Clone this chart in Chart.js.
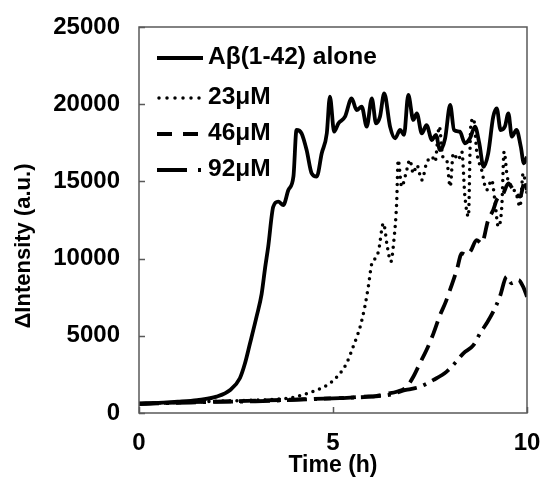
<!DOCTYPE html>
<html>
<head>
<meta charset="utf-8">
<script src="https://cdn.jsdelivr.net/npm/chart.js@4.4.0/dist/chart.umd.min.js"></script>
<style>
    html, body { margin: 0; padding: 0; background: #fff; }
    #wrap { width: 543px; height: 477px; }
</style>
</head>
<body>
<div id="wrap"><canvas id="myChart"></canvas></div>
<script>
// time (h) and ΔIntensity (a.u.)
const timeAlone = [0, 0.5, 1, 1.5, 2.0, 2.35, 2.6, 2.73, 2.86, 3.03, 3.16, 3.25, 3.33, 3.46, 3.59, 3.72, 3.85, 3.98, 4.06, 4.19, 4.32, 4.45, 4.58, 4.71, 4.84, 4.92, 5.03, 5.14, 5.31, 5.48, 5.61, 5.74, 5.87, 6.0, 6.11, 6.21, 6.32, 6.47, 6.6, 6.73, 6.83, 6.94, 7.07, 7.16, 7.29, 7.41, 7.55, 7.65, 7.76, 7.89, 8.02, 8.12, 8.27, 8.4, 8.53, 8.66, 8.77, 8.88, 9.0, 9.13, 9.22, 9.32, 9.43, 9.52, 9.61, 9.73, 9.84, 9.92, 10.0];
const valuesAlone = [600, 650, 730, 840, 1060, 1490, 2250, 3200, 4500, 6240, 7700, 9400, 10770, 13360, 13690, 13470, 14440, 15310, 18330, 18110, 17030, 15520, 15310, 16820, 18110, 20490, 18220, 18760, 19190, 20380, 19620, 19840, 18550, 20380, 18760, 19190, 20700, 18550, 17790, 18330, 18010, 20600, 18980, 19410, 18110, 18650, 17680, 18010, 17030, 17790, 19950, 18330, 18220, 17470, 17790, 18550, 17470, 15950, 16820, 19190, 19730, 18330, 18550, 19410, 17900, 18330, 17250, 16170, 16600];

const time23 = [0, 1, 2, 3, 3.5, 4.06, 4.58, 4.92, 5.18, 5.35, 5.52, 5.7, 5.82, 5.91, 6.0, 6.06, 6.17, 6.3, 6.4, 6.49, 6.57, 6.64, 6.68, 6.77, 6.88, 6.98, 7.07, 7.16, 7.29, 7.41, 7.55, 7.63, 7.74, 7.83, 7.93, 8.02, 8.1, 8.23, 8.32, 8.4, 8.49, 8.55, 8.62, 8.71, 8.83, 8.96, 9.09, 9.17, 9.26, 9.35, 9.41, 9.49, 9.61, 9.73, 9.82, 9.9, 10.0];
const values23 = [600, 680, 760, 830, 880, 1060, 1490, 1920, 2570, 3220, 4300, 5590, 6890, 8180, 9690, 9910, 10450, 12280, 10770, 9800, 11200, 13580, 16390, 14660, 15520, 16390, 15520, 16060, 15090, 16170, 16600, 16280, 18550, 16600, 16390, 14660, 16820, 16390, 16930, 14010, 12720, 18550, 19080, 16820, 15740, 14440, 15090, 13800, 12070, 13360, 16930, 15310, 14660, 14120, 13360, 15520, 14230];

const time46 = [0, 1, 2, 3, 4, 4.5, 5.0, 5.35, 5.8, 6.1, 6.4, 6.64, 6.9, 7.07, 7.24, 7.41, 7.59, 7.76, 7.89, 8.02, 8.19, 8.32, 8.44, 8.55, 8.7, 8.83, 9.0, 9.13, 9.22, 9.39, 9.52, 9.65, 9.82, 9.95, 10.0];
const values46 = [600, 680, 740, 800, 870, 920, 950, 980, 1060, 1100, 1250, 1380, 1700, 2350, 3220, 4080, 5160, 6350, 7100, 8000, 9260, 10340, 10230, 10500, 11200, 10990, 12500, 13150, 13800, 14230, 14870, 14440, 14010, 15090, 14440];

const time92 = [0, 1, 2, 3, 4, 5, 5.5, 6.0, 6.5, 6.8, 7.0, 7.24, 7.59, 7.93, 8.14, 8.36, 8.62, 8.79, 8.96, 9.13, 9.3, 9.48, 9.6, 9.78, 9.9, 10.0];
const values92 = [600, 660, 720, 760, 850, 950, 1000, 1060, 1200, 1450, 1550, 1700, 2140, 2680, 3220, 3860, 4400, 5160, 5810, 6560, 7530, 8830, 8400, 8610, 8180, 7530];

const seriesNames = ['Aβ(1-42) alone', '23μM', '46μM', '92μM'];
const xTicks = [0, 5, 10];
const yTicks = [0, 5000, 10000, 15000, 20000, 25000];

const FONT = "'Liberation Sans', Arial, sans-serif";

function pts(t, v) {
    return t.map((x, i) => ({ x: x, y: v[i] }));
}

// box, inward ticks, y title and the legend inside the plot
const decorations = {
    id: 'decorations',
    afterDraw(chart) {
        const { ctx, chartArea: a, scales: { x, y } } = chart;
        ctx.save();
        ctx.strokeStyle = '#595959';
        ctx.lineWidth = 1.5;
        ctx.strokeRect(a.left, a.top, a.right - a.left, a.bottom - a.top);
        ctx.beginPath();
        yTicks.forEach(v => {
            const py = Math.round(y.getPixelForValue(v)) + 0.5;
            ctx.moveTo(a.left, py);
            ctx.lineTo(a.left + 6, py);
        });
        xTicks.forEach(v => {
            const px = Math.round(x.getPixelForValue(v)) + 0.5;
            ctx.moveTo(px, a.bottom);
            ctx.lineTo(px, a.bottom - 6);
        });
        ctx.stroke();

        // y axis title
        ctx.fillStyle = '#000';
        ctx.font = 'bold 22px ' + FONT;
        ctx.textAlign = 'center';
        ctx.textBaseline = 'middle';
        ctx.translate(24, 246);
        ctx.rotate(-Math.PI / 2);
        ctx.fillText('ΔIntensity (a.u.)', 0, 0);
        ctx.setTransform(1, 0, 0, 1, 0, 0);

        // legend
        const rows = [58, 98, 134, 170];
        ctx.strokeStyle = '#000';
        ctx.lineWidth = 4;
        // solid
        ctx.setLineDash([]);
        ctx.lineCap = 'butt';
        ctx.beginPath(); ctx.moveTo(157, rows[0]); ctx.lineTo(203, rows[0]); ctx.stroke();
        // dotted
        ctx.lineWidth = 3.5;
        ctx.lineCap = 'round';
        ctx.setLineDash([0, 8]);
        ctx.beginPath(); ctx.moveTo(159, rows[1]); ctx.lineTo(201, rows[1]); ctx.stroke();
        // dashed
        ctx.lineWidth = 4;
        ctx.lineCap = 'butt';
        ctx.setLineDash([15, 11]);
        ctx.beginPath(); ctx.moveTo(157, rows[2]); ctx.lineTo(199, rows[2]); ctx.stroke();
        // dash dot
        ctx.setLineDash([30, 11, 3, 20]);
        ctx.beginPath(); ctx.moveTo(157, rows[3]); ctx.lineTo(202, rows[3]); ctx.stroke();
        ctx.setLineDash([]);

        ctx.font = 'bold 24.5px ' + FONT;
        ctx.textAlign = 'left';
        ctx.textBaseline = 'middle';
        seriesNames.forEach((name, i) => ctx.fillText(name, 208, rows[i] - 1));
        ctx.restore();
    }
};

document.addEventListener('DOMContentLoaded', function() {
    const ctx = document.getElementById('myChart').getContext('2d');

    const common = {
        borderColor: '#000',
        pointRadius: 0,
        fill: false,
        cubicInterpolationMode: 'monotone'
    };

    new Chart(ctx, {
        type: 'line',
        data: {
            datasets: [
                Object.assign({ label: seriesNames[0], data: pts(timeAlone, valuesAlone), borderWidth: 3.8 }, common),
                Object.assign({ label: seriesNames[1], data: pts(time23, values23), borderWidth: 3.5, borderDash: [0, 7], borderCapStyle: 'round' }, common),
                Object.assign({ label: seriesNames[2], data: pts(time46, values46), borderWidth: 3.8, borderDash: [17, 8] }, common),
                Object.assign({ label: seriesNames[3], data: pts(time92, values92), borderWidth: 3.8, borderDash: [20, 7, 3, 7] }, common)
            ]
        },
        options: {
            responsive: true,
            maintainAspectRatio: false,
            animation: false,
            layout: { padding: { top: 27, right: 16, left: 0, bottom: 0 } },
            plugins: {
                legend: { display: false },
                tooltip: { enabled: false }
            },
            scales: {
                x: {
                    type: 'linear',
                    min: 0,
                    max: 10,
                    grid: { display: false, drawTicks: false },
                    border: { display: false },
                    afterBuildTicks: s => { s.ticks = xTicks.map(v => ({ value: v })); },
                    afterFit: s => { s.height = 64; s.paddingLeft = 0; s.paddingRight = 0; },
                    ticks: {
                        color: '#000',
                        padding: 16,
                        maxRotation: 0,
                        font: { family: FONT, size: 24, weight: 'bold' },
                        callback: v => String(v)
                    },
                    title: {
                        display: true,
                        text: 'Time (h)',
                        color: '#000',
                        font: { family: FONT, size: 23, weight: 'bold', lineHeight: 1 },
                        padding: { top: 0, bottom: 0 }
                    }
                },
                y: {
                    min: 0,
                    max: 25000,
                    grid: { display: false, drawTicks: false },
                    border: { display: false },
                    afterBuildTicks: s => { s.ticks = yTicks.map(v => ({ value: v })); },
                    afterFit: s => { s.width = 139; s.paddingTop = 0; s.paddingBottom = 0; },
                    ticks: {
                        color: '#000',
                        padding: 19,
                        font: { family: FONT, size: 24, weight: 'bold' },
                        callback: v => String(v)
                    }
                }
            }
        },
        plugins: [decorations]
    });
});
</script>
</body>
</html>
